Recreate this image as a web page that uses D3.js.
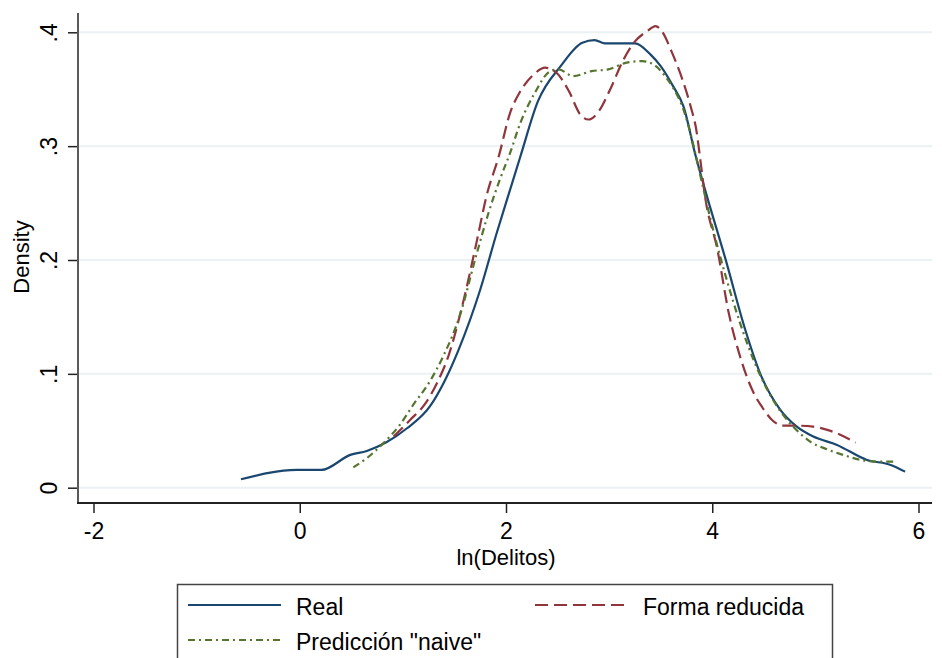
<!DOCTYPE html>
<html>
<head>
<meta charset="utf-8">
<style>
  body { margin: 0; background: #fff; }
  svg { font-family: "Liberation Sans", Arial, sans-serif; }
</style>
</head>
<body>
<svg id="chart" width="942" height="658"></svg>
<script src="https://d3js.org/d3.v7.min.js"></script>
<script>
  // ln(Delitos) values and density for each curve
  const realX = [-0.57, -0.03, 0.21, 0.49, 0.65, 0.84, 1.04, 1.26, 1.41, 1.54, 1.75, 1.91, 2.07, 2.14, 2.31, 2.53, 2.74, 2.86, 2.96, 3.25, 3.40, 3.50, 3.62, 3.72, 3.84, 3.93, 4.13, 4.32, 4.47, 4.66, 4.82, 4.98, 5.21, 5.50, 5.73, 5.87]
  const realY = [0.0074, 0.0156, 0.0156, 0.0288, 0.0323, 0.0399, 0.0522, 0.0712, 0.0947, 0.1211, 0.1739, 0.2237, 0.2706, 0.2911, 0.3395, 0.3703, 0.3909, 0.3931, 0.3902, 0.3902, 0.3806, 0.3703, 0.3527, 0.3351, 0.2911, 0.2618, 0.2003, 0.1387, 0.0991, 0.0683, 0.0536, 0.0449, 0.0376, 0.0244, 0.0200, 0.0141]

  const formaX = [0.91, 1.07, 1.22, 1.33, 1.44, 1.59, 1.72, 1.81, 1.93, 2.04, 2.14, 2.27, 2.38, 2.49, 2.61, 2.72, 2.80, 2.90, 3.01, 3.14, 3.24, 3.37, 3.45, 3.51, 3.61, 3.71, 3.79, 3.85, 3.88, 3.93, 4.05, 4.16, 4.27, 4.42, 4.47, 4.58, 4.68, 4.82, 4.98, 5.14, 5.39]
  const formaY = [0.0449, 0.0595, 0.0742, 0.0918, 0.1152, 0.1651, 0.2179, 0.2559, 0.2911, 0.3293, 0.3483, 0.3630, 0.3689, 0.3645, 0.3483, 0.3278, 0.3234, 0.3307, 0.3498, 0.3762, 0.3909, 0.4011, 0.4055, 0.4011, 0.3821, 0.3586, 0.3351, 0.3117, 0.2911, 0.2559, 0.2091, 0.1534, 0.1152, 0.0800, 0.0727, 0.0595, 0.0545, 0.0545, 0.0536, 0.0501, 0.0396]

  const naiveX = [0.52, 0.65, 0.81, 0.97, 1.10, 1.26, 1.39, 1.56, 1.70, 1.83, 1.94, 2.04, 2.14, 2.28, 2.43, 2.51, 2.65, 2.83, 2.99, 3.17, 3.32, 3.43, 3.53, 3.62, 3.72, 3.82, 3.85, 4.00, 4.14, 4.27, 4.40, 4.51, 4.63, 4.74, 4.85, 4.95, 5.11, 5.27, 5.44, 5.60, 5.76]
  const naiveY = [0.0179, 0.0259, 0.0390, 0.0551, 0.0727, 0.0932, 0.1152, 0.1534, 0.2003, 0.2413, 0.2706, 0.2941, 0.3205, 0.3469, 0.3659, 0.3674, 0.3615, 0.3659, 0.3674, 0.3733, 0.3747, 0.3718, 0.3630, 0.3513, 0.3322, 0.2999, 0.2880, 0.2296, 0.1827, 0.1446, 0.1123, 0.0903, 0.0712, 0.0580, 0.0478, 0.0405, 0.0338, 0.0288, 0.0244, 0.0229, 0.0229]

  const xTicks = [-2, 0, 2, 4, 6]
  const xTickLabels = ['-2', '0', '2', '4', '6']
  const yTicks = [0, 0.1, 0.2, 0.3, 0.4]
  const yTickLabels = ['0', '.1', '.2', '.3', '.4']

  const series = [
    { name: 'Real', xs: realX, ys: realY, color: '#1a476f', dash: null },
    { name: 'Forma reducida', xs: formaX, ys: formaY, color: '#90353b', dash: '13,6' },
    { name: 'Predicción "naive"', xs: naiveX, ys: naiveY, color: '#55752f', dash: '7,4,2,4' }
  ]

  const svg = d3.select('#chart')

  const xScale = d3.scaleLinear().domain([-2, 6]).range([93.5, 918.5])
  const yScale = d3.scaleLinear().domain([0, 0.4]).range([487.7, 32.3])

  // gridlines
  svg.append('g')
    .selectAll('line')
    .data(yTicks)
    .enter()
    .append('line')
    .attr('x1', 79).attr('x2', 932)
    .attr('y1', d => yScale(d)).attr('y2', d => yScale(d))
    .style('stroke', '#eaf2f3')
    .style('stroke-width', 2)

  // y axis
  const yAxis = svg.append('g')
    .attr('transform', 'translate(78,0)')
    .call(d3.axisLeft(yScale).tickValues(yTicks).tickSize(10).tickPadding(0)
      .tickFormat((d, i) => yTickLabels[i]))
  yAxis.select('.domain').remove()
  yAxis.append('line')
    .attr('x1', 0).attr('x2', 0).attr('y1', 13).attr('y2', 503)
    .style('stroke', '#5a5a5a').style('stroke-width', 2)
  yAxis.selectAll('.tick line').style('stroke', '#222').style('stroke-width', 1.5)
  yAxis.selectAll('.tick text')
    .attr('x', 0).attr('dy', 0)
    .attr('transform', 'translate(-21,0) rotate(-90)')
    .attr('text-anchor', 'middle')
    .style('font-size', '23px').style('fill', '#000')

  // x axis
  const xAxis = svg.append('g')
    .attr('transform', 'translate(0,503)')
    .call(d3.axisBottom(xScale).tickValues(xTicks).tickSize(10).tickPadding(0)
      .tickFormat((d, i) => xTickLabels[i]))
  xAxis.select('.domain').remove()
  xAxis.append('line')
    .attr('x1', 77).attr('x2', 932).attr('y1', 0).attr('y2', 0)
    .style('stroke', '#222').style('stroke-width', 2)
  xAxis.selectAll('.tick line').style('stroke', '#222').style('stroke-width', 1.5)
  xAxis.selectAll('.tick text')
    .attr('y', 36).attr('dy', 0)
    .style('font-size', '23px').style('fill', '#000')

  // axis titles
  svg.append('text')
    .attr('x', 506).attr('y', 565)
    .attr('text-anchor', 'middle')
    .style('font-size', '22px')
    .text('ln(Delitos)')
  svg.append('text')
    .attr('transform', 'translate(29,257) rotate(-90)')
    .attr('text-anchor', 'middle')
    .style('font-size', '22px')
    .text('Density')

  // curves
  const line = d3.line()
    .x(d => xScale(d[0]))
    .y(d => yScale(d[1]))
    .curve(d3.curveMonotoneX)

  svg.append('g')
    .selectAll('path')
    .data(series)
    .enter()
    .append('path')
    .attr('d', s => line(s.xs.map((x, i) => [x, s.ys[i]])))
    .style('fill', 'none')
    .style('stroke', s => s.color)
    .style('stroke-width', 2.2)
    .style('stroke-dasharray', s => s.dash)

  // legend
  const legend = svg.append('g')
  legend.append('rect')
    .attr('x', 177.5).attr('y', 584.5).attr('width', 655).attr('height', 100)
    .style('fill', '#fff').style('stroke', '#444').style('stroke-width', 1.5)

  const legendPos = [
    { x: 188, y: 605 },
    { x: 535, y: 605 },
    { x: 188, y: 640 }
  ]
  series.forEach((s, i) => {
    const p = legendPos[i]
    legend.append('line')
      .attr('x1', p.x).attr('x2', p.x + 93)
      .attr('y1', p.y).attr('y2', p.y)
      .style('stroke', s.color).style('stroke-width', 2.2)
      .style('stroke-dasharray', s.dash)
    legend.append('text')
      .attr('x', p.x + 108).attr('y', p.y + 10)
      .style('font-size', '23px')
      .text(s.name)
  })
</script>
</body>
</html>
